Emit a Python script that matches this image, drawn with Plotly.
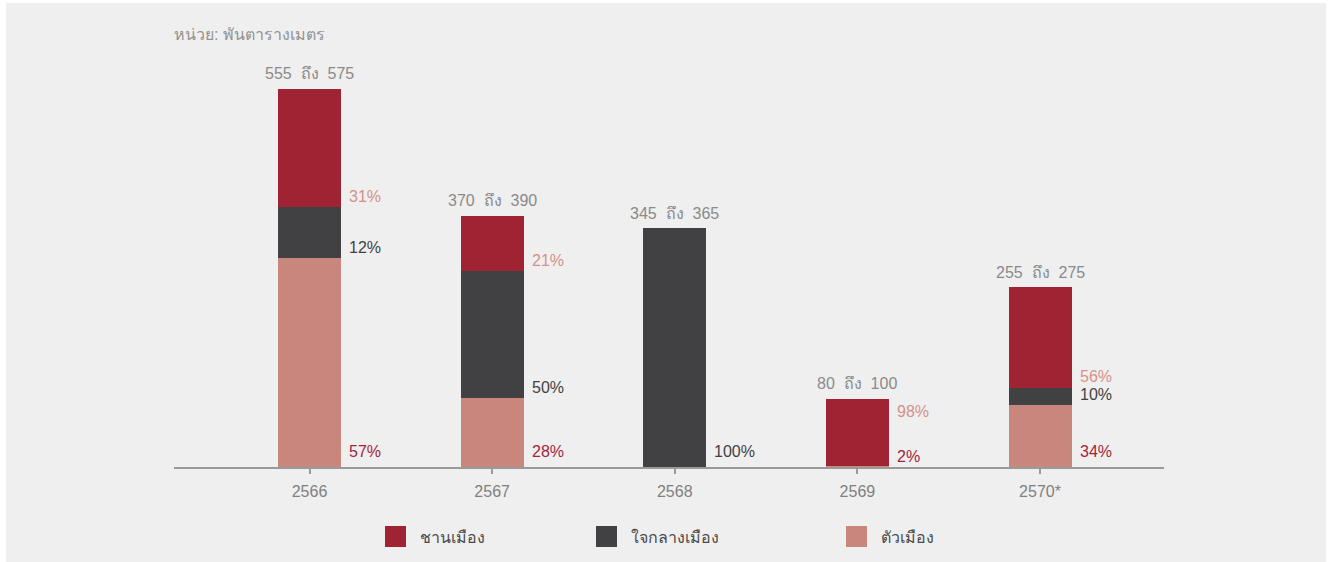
import plotly.graph_objects as go

# ---------------- data ----------------
years = ["2566", "2567", "2568", "2569", "2570*"]
range_low = [555, 370, 345, 80, 255]
range_high = [575, 390, 365, 100, 275]

series_names = ["ตัวเมือง", "ใจกลางเมือง", "ชานเมือง"]   # bottom -> top
city = [318, 105, 0, 2, 94]          # ตัวเมือง (thousand sq m)
cbd = [78, 193, 364, 0, 27]          # ใจกลางเมือง
suburban = [180, 85, 0, 102, 153]    # ชานเมือง

city_pct = [57, 28, 0, 2, 34]
cbd_pct = [12, 50, 100, 0, 10]
suburban_pct = [31, 21, 0, 98, 56]

unit_text = "หน่วย: พันตารางเมตร"
range_word = "ถึง"

# ---------------- styles ----------------
bar_colors = ["#C8867C", "#414143", "#9F2333"]
label_colors = ["#A3243A", "#414143", "#D4918A"]
FONT = "Liberation Sans, Arial, Noto Sans, sans-serif"
W, H = 1328, 562
ML, MR, MT, MB = 174, 164, 57, 95
PW, PH = W - ML - MR, H - MT - MB
YMAX = 624.5
SCALE = PH / YMAX
BAR_W = 0.345
SP = "\u00a0\u00a0"

def px_to_paper_x(px):
    return (px - ML) / PW

def px_to_paper_y(py):
    return (H - MB - py) / PH

xs = list(range(len(years)))
seg_values = [city, cbd, suburban]
seg_pcts = [city_pct, cbd_pct, suburban_pct]

fig = go.Figure()
for name, vals, col in zip(series_names, seg_values, bar_colors):
    fig.add_trace(go.Bar(
        x=xs, y=vals, name=name, width=BAR_W,
        marker=dict(color=col, line=dict(width=0)),
        showlegend=False, hoverinfo="x+y+name",
    ))

annotations = []
# totals above bars
for i in xs:
    total = sum(s[i] for s in seg_values)
    annotations.append(dict(
        x=i, y=total, xref="x", yref="y", yanchor="middle", xanchor="center",
        yshift=15, showarrow=False,
        text=f"{range_low[i]}{SP}{range_word}{SP}{range_high[i]}",
        font=dict(family=FONT, size=16, color="#8A8A8A"),
    ))

# percentage labels
for i in xs:
    base = 0
    prev_px = None
    for k in range(3):
        v = seg_values[k][i]
        p = seg_pcts[k][i]
        if p > 0:
            seg_h = v * SCALE
            lift = 16 if (base == 0 and seg_h > 20) else 11
            center_px = base * SCALE + lift
            if prev_px is not None and center_px - prev_px < 15:
                center_px = prev_px + 45
            prev_px = center_px
            annotations.append(dict(
                x=i + BAR_W / 2, y=center_px / SCALE, xref="x", yref="y",
                xanchor="left", yanchor="middle", xshift=6, showarrow=False,
                text=f"{p}%",
                font=dict(family=FONT, size=16, color=label_colors[k]),
            ))
        base += v

# unit title
annotations.append(dict(
    x=0, y=px_to_paper_y(35), xref="paper", yref="paper", xshift=-2,
    xanchor="left", yanchor="middle", showarrow=False, text=unit_text,
    font=dict(family=FONT, size=16, color="#939393"),
))

# manual legend (top series first)
legend_order = [2, 1, 0]
legend_px = [385, 596, 846]
shapes = [dict(
    type="rect", xref="paper", yref="paper", layer="below",
    x0=px_to_paper_x(6), x1=px_to_paper_x(1326),
    y0=px_to_paper_y(562), y1=px_to_paper_y(3),
    fillcolor="#EFEFEF", line=dict(width=0),
)]
for k, lx in zip(legend_order, legend_px):
    shapes.append(dict(
        type="rect", xref="paper", yref="paper", layer="above",
        x0=px_to_paper_x(lx), x1=px_to_paper_x(lx + 21),
        y0=px_to_paper_y(547), y1=px_to_paper_y(526),
        fillcolor=bar_colors[k], line=dict(width=0),
    ))
    annotations.append(dict(
        x=px_to_paper_x(lx + 33), y=px_to_paper_y(537), xref="paper", yref="paper",
        xanchor="left", yanchor="middle", showarrow=False, text=series_names[k],
        font=dict(family=FONT, size=16, color="#4A4A4A"),
    ))

fig.update_layout(
    width=W, height=H, barmode="stack",
    margin=dict(l=ML, r=MR, t=MT, b=MB, pad=0),
    paper_bgcolor="#FFFFFF", plot_bgcolor="rgba(0,0,0,0)",
    font=dict(family=FONT, size=16, color="#888888"),
    annotations=annotations, shapes=shapes, showlegend=False,
    xaxis=dict(
        range=[-0.742, 4.679], tickvals=xs, ticktext=years,
        showgrid=False, zeroline=False, showline=True, linecolor="#9A9A9A",
        linewidth=2, ticks="outside", ticklen=5, tickwidth=2, tickcolor="#9A9A9A",
        tickfont=dict(family=FONT, size=16, color="#808080"),
        ticklabelstandoff=4, fixedrange=True,
    ),
    yaxis=dict(range=[0, YMAX], visible=False, fixedrange=True),
)

fig.write_html("out.html")
